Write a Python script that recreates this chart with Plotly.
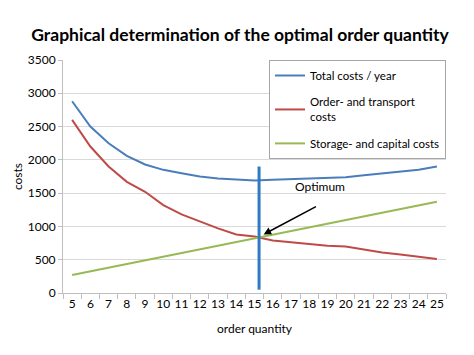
import plotly.graph_objects as go

order_qty = list(range(5, 26))
total_costs = [2880, 2500, 2250, 2060, 1930, 1850, 1800, 1750, 1720, 1700, 1690,
               1700, 1710, 1710, 1720, 1740, 1770, 1800, 1820, 1850, 1900]
order_costs = [2600, 2200, 1900, 1670, 1520, 1320, 1180, 1070, 970, 880, 850,
               790, 760, 730, 710, 700, 650, 610, 580, 540, 510]
storage_costs = [270, 325, 380, 435, 490, 545, 600, 655, 710, 765, 820,
                 875, 930, 985, 1040, 1095, 1150, 1205, 1260, 1315, 1370]
optimum_x = 15.25
optimum_line_y = [50, 1900]
arrow_tail = (18.45, 1310)
arrow_head = (15.5, 880)
optimum_label = (18.6, 1600)

font = "Lato"
fig = go.Figure()
fig.add_trace(go.Scatter(x=order_qty, y=total_costs, mode="lines", name="Total costs / year",
                         legendgroup="a", line=dict(color="#4a7ebb", width=2)))
fig.add_trace(go.Scatter(x=order_qty, y=order_costs, mode="lines", name="Order- and transport<br>costs",
                         legendgroup="b", line=dict(color="#be4b48", width=2)))
fig.add_trace(go.Scatter(x=order_qty, y=storage_costs, mode="lines", name="Storage- and capital costs",
                         legendgroup="c", line=dict(color="#98b954", width=2)))
fig.add_trace(go.Scatter(x=[optimum_x, optimum_x], y=optimum_line_y, mode="lines", showlegend=False,
                         line=dict(color="#2e7bc4", width=3)))

fig.add_annotation(x=arrow_head[0], y=arrow_head[1], ax=arrow_tail[0], ay=arrow_tail[1],
                   xref="x", yref="y", axref="x", ayref="y", text="", showarrow=True,
                   arrowhead=2, arrowsize=1, arrowwidth=1.5, arrowcolor="black")
fig.add_annotation(x=optimum_label[0], y=optimum_label[1], xref="x", yref="y", text="Optimum",
                   showarrow=False, font=dict(family=font, size=12, color="black"))

fig.update_layout(
    width=474, height=355,
    margin=dict(l=55, r=36, t=52, b=70),
    paper_bgcolor="white", plot_bgcolor="white",
    title=dict(text="<b>Graphical determination of the optimal order quantity</b>",
               x=232 / 474, xanchor="center", y=1 - 27 / 355, yanchor="middle",
               font=dict(family=font, size=17.5, color="black")),
    font=dict(family=font, size=12, color="black"),
    legend=dict(x=1, y=1, xanchor="right", yanchor="top", bgcolor="white",
                bordercolor="#a6a6a6", borderwidth=1, font=dict(size=11.5),
                tracegroupgap=8, itemwidth=30),
    showlegend=True,
)
fig.update_xaxes(range=[4.5, 25.5], tickvals=order_qty, ticktext=[str(v) for v in order_qty],
                 ticks="", showgrid=False, showline=True, linecolor="#bfbfbf", linewidth=1,
                 minor=dict(tick0=4.5, dtick=1, ticks="outside", ticklen=5, tickcolor="#bfbfbf"),
                 title=dict(text="order quantity", font=dict(size=12), standoff=14),
                 zeroline=False, automargin=False)
fig.update_yaxes(range=[0, 3500], dtick=500, showgrid=True, gridcolor="#d9d9d9",
                 showline=True, linecolor="#bfbfbf", ticks="outside", ticklen=4, tickcolor="#bfbfbf",
                 title=dict(text="costs", font=dict(size=12), standoff=2),
                 zeroline=False, automargin=False)

fig.write_html("out.html")
